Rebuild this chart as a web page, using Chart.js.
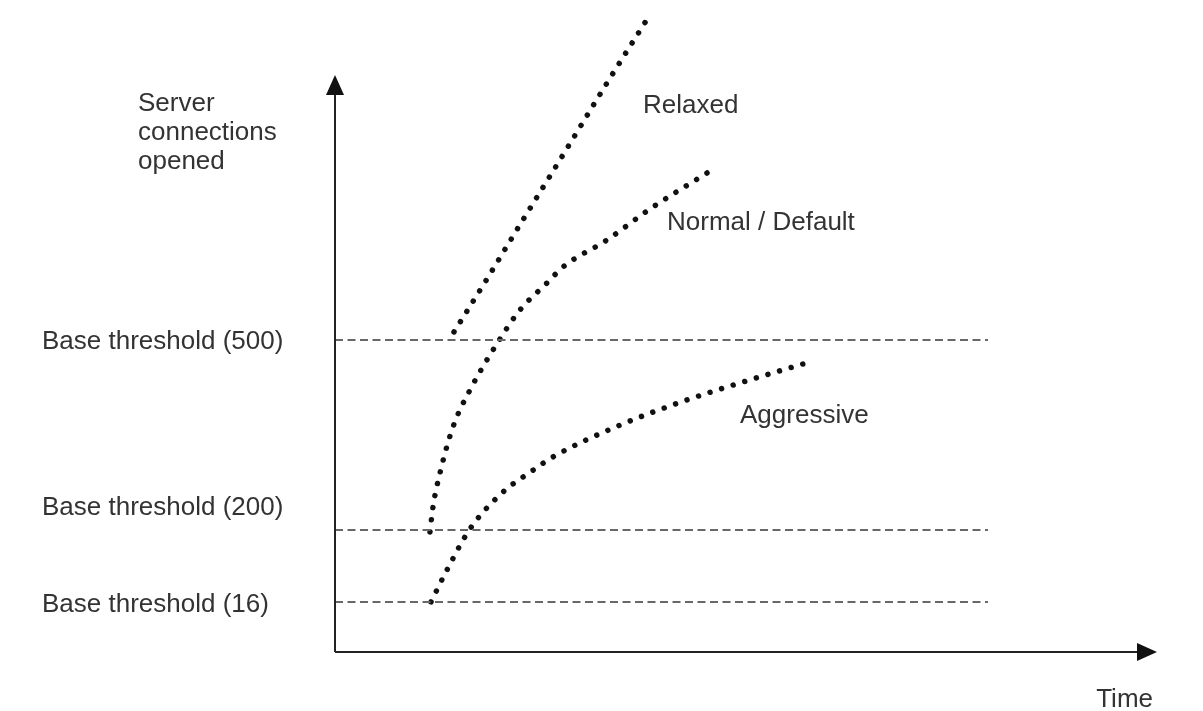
<!DOCTYPE html>
<html>
<head>
<meta charset="utf-8">
<script src="https://cdn.jsdelivr.net/npm/chart.js@4/dist/chart.umd.min.js"></script>
<style>
  html, body { margin: 0; padding: 0; background: #fff; }
  #wrap { width: 1203px; height: 711px; position: relative; }
</style>
</head>
<body>
<div id="wrap"><canvas id="thresholdChart"></canvas></div>
<script>
// Дані (одиниці умовні: час по X, рівень з'єднань по Y)
const relaxedX = [11.9, 15.2, 18.3, 22.8, 27.2, 31.1];
const relaxedY = [32.0, 37.3, 42.4, 49.7, 56.9, 63.1];

const normalX = [9.5, 9.8, 10.5, 11.8, 13.5, 16.5, 18.5, 21.2, 22.8, 27.2, 31.5, 37.2];
const normalY = [12.0, 14.5, 17.9, 22.5, 26.2, 31.3, 34.2, 36.9, 38.5, 41.2, 44.3, 47.9];

const aggressiveX = [9.6, 11.2, 13.5, 16.7, 19.7, 21.8, 28.3, 35.2, 41.8, 46.8];
const aggressiveY = [5.0, 8.2, 12.3, 15.9, 18.1, 19.5, 22.6, 25.2, 27.3, 28.8];

// Пунктирні пороги (500, 200, 16)
const thresholdLevels = [31.2, 12.2, 5.0];
const thresholdEnd = 65.3;

// Підписи осі Y
const tickLevels = [4.75, 14.4, 31.0];
const tickLabels = ['Base threshold (16)', 'Base threshold (200)', 'Base threshold (500)'];

// Підписи кривих
const seriesNames = ['Relaxed', 'Normal / Default', 'Aggressive'];
const seriesLabelX = [30.8, 33.2, 40.5];
const seriesLabelY = [53.9, 42.2, 22.9];

const yTitleLines = ['Server', 'connections', 'opened'];
const xTitle = 'Time';

// Межі осей
const xMax = 81.8;
const yMax = 65.2;
const xArrowEnd = 82.2;
const yArrowEnd = 57.7;

const FONT = '"Liberation Sans", Arial, Helvetica, sans-serif';
const TEXT = '#333333';

const toPoints = (xs, ys) => xs.map((x, i) => ({ x: x, y: ys[i] }));

// крапки: крок підібрано, щоб остання крапка лягала на кінець кривої
const dotted = (xs, ys, step) => ({
    data: toPoints(xs, ys),
    borderColor: '#111111',
    borderWidth: 5.5,
    borderDash: [0.01, step - 0.01],
    borderCapStyle: 'round',
    cubicInterpolationMode: 'monotone',
    pointRadius: 0,
    fill: false,
    clip: false
});

const dashed = (level) => ({
    data: [{ x: 0, y: level }, { x: thresholdEnd, y: level }],
    borderColor: '#686868',
    borderWidth: 2,
    borderDash: [8, 4.5],
    pointRadius: 0,
    fill: false
});

// Осі зі стрілками та підписи
const annotations = {
    id: 'annotations',
    afterDraw(chart) {
        const ctx = chart.ctx;
        const xs = chart.scales.x, ys = chart.scales.y;
        const x0 = xs.getPixelForValue(0), y0 = ys.getPixelForValue(0);
        const xTip = xs.getPixelForValue(xArrowEnd), yTip = ys.getPixelForValue(yArrowEnd);

        ctx.save();
        ctx.strokeStyle = '#222';
        ctx.fillStyle = '#111';
        ctx.lineWidth = 2;
        ctx.beginPath();
        ctx.moveTo(x0, y0);
        ctx.lineTo(x0, yTip + 10);
        ctx.moveTo(x0, y0);
        ctx.lineTo(xTip - 10, y0);
        ctx.stroke();

        ctx.beginPath();
        ctx.moveTo(x0, yTip);
        ctx.lineTo(x0 - 9, yTip + 20);
        ctx.lineTo(x0 + 9, yTip + 20);
        ctx.closePath();
        ctx.fill();

        ctx.beginPath();
        ctx.moveTo(xTip, y0);
        ctx.lineTo(xTip - 20, y0 - 9);
        ctx.lineTo(xTip - 20, y0 + 9);
        ctx.closePath();
        ctx.fill();

        ctx.font = '26px ' + FONT;
        ctx.fillStyle = TEXT;
        ctx.textAlign = 'left';
        ctx.textBaseline = 'alphabetic';
        yTitleLines.forEach((line, i) => {
            ctx.fillText(line, x0 - 197, 111 + i * 29);
        });

        seriesNames.forEach((name, i) => {
            ctx.fillText(name, xs.getPixelForValue(seriesLabelX[i]), ys.getPixelForValue(seriesLabelY[i]));
        });
        ctx.restore();
    }
};

const chart = new Chart(document.getElementById('thresholdChart'), {
    type: 'line',
    data: {
        datasets: [
            ...thresholdLevels.map(dashed),
            dotted(relaxedX, relaxedY, 12.12),
            dotted(normalX, normalY, 12.2),
            dotted(aggressiveX, aggressiveY, 12.12)
        ]
    },
    options: {
        responsive: true,
        maintainAspectRatio: false,
        animation: false,
        events: [],
        layout: { padding: { left: 42, right: 50, top: 0, bottom: 0 } },
        plugins: { legend: { display: false }, tooltip: { enabled: false } },
        scales: {
            x: {
                type: 'linear',
                min: 0,
                max: xMax,
                grid: { display: false, drawTicks: false, tickLength: 0 },
                border: { display: false },
                ticks: { display: false },
                title: {
                    display: true,
                    text: xTitle,
                    align: 'end',
                    color: TEXT,
                    font: { family: FONT, size: 26, lineHeight: 0.85 },
                    padding: { top: 37, bottom: 0 }
                }
            },
            y: {
                type: 'linear',
                min: 0,
                max: yMax,
                grid: { display: false, drawTicks: false, tickLength: 0 },
                border: { display: false },
                afterBuildTicks(scale) {
                    scale.ticks = tickLevels.map(v => ({ value: v }));
                },
                afterFit(scale) {
                    scale.width = 293;
                    scale.paddingTop = 0;
                    scale.paddingBottom = 0;
                },
                ticks: {
                    autoSkip: false,
                    crossAlign: 'far',
                    padding: 0,
                    color: TEXT,
                    font: { family: FONT, size: 26 },
                    callback: (value, index) => tickLabels[index]
                }
            }
        }
    },
    plugins: [annotations]
});
</script>
</body>
</html>
